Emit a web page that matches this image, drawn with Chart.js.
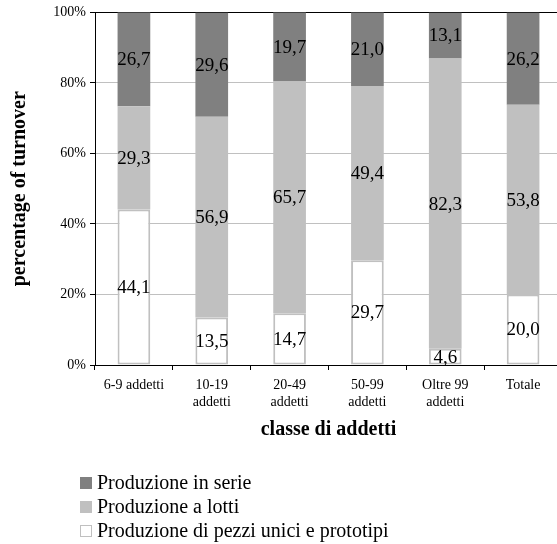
<!DOCTYPE html>
<html>
<head>
<meta charset="utf-8">
<script src="https://cdn.jsdelivr.net/npm/chart.js@4/dist/chart.umd.min.js"></script>
<style>
  html, body { margin: 0; padding: 0; background: #fff; overflow: hidden; }
  #wrap { width: 565px; height: 544px; }
</style>
</head>
<body>
<div id="wrap"><canvas id="chart" width="565" height="544"></canvas></div>
<script>
// Size classes (employees) and share of turnover by production type
const categories = [
  '6-9 addetti',
  ['10-19', 'addetti'],
  ['20-49', 'addetti'],
  ['50-99', 'addetti'],
  ['Oltre 99', 'addetti'],
  'Totale'
];
const seriesNames = [
  'Produzione di pezzi unici e prototipi',
  'Produzione a lotti',
  'Produzione in serie'
];
const pezziUnici = [44.1, 13.5, 14.7, 29.7, 4.6, 20.0];
const lotti      = [29.3, 56.9, 65.7, 49.4, 82.3, 53.8];
const serie      = [26.7, 29.6, 19.7, 21.0, 13.1, 26.2];
const yTicks = [0, 20, 40, 60, 80, 100];

const FONT = '"Liberation Serif", "Times New Roman", serif';

// Writes each segment's value (decimal comma) in the middle of its bar piece
const segmentLabels = {
  id: 'segmentLabels',
  afterDatasetsDraw(chart) {
    const ctx = chart.ctx;
    ctx.save();
    ctx.font = '19px ' + FONT;
    ctx.fillStyle = '#000';
    ctx.textAlign = 'center';
    ctx.textBaseline = 'middle';
    chart.data.datasets.forEach((ds, di) => {
      const meta = chart.getDatasetMeta(di);
      meta.data.forEach((bar, i) => {
        const p = bar.getProps(['x', 'y', 'base'], true);
        const txt = ds.data[i].toFixed(1).replace('.', ',');
        ctx.fillText(txt, p.x, (p.y + p.base) / 2 + 1);
      });
    });
    ctx.restore();
  }
};

// Vertical legend in the lower-left corner, top series first
const stackedLegend = {
  id: 'stackedLegend',
  afterDraw(chart) {
    const ctx = chart.ctx;
    const x0 = 80, y0 = 483, rowH = 24, box = 12;
    ctx.save();
    ctx.font = '20px ' + FONT;
    ctx.textBaseline = 'middle';
    ctx.textAlign = 'left';
    const order = chart.data.datasets.map((d, i) => i).reverse();
    order.forEach((di, row) => {
      const ds = chart.data.datasets[di];
      const y = y0 + row * rowH;
      ctx.fillStyle = ds.backgroundColor;
      ctx.fillRect(x0, y - box / 2, box, box);
      if (ds.borderWidth) {
        ctx.strokeStyle = ds.borderColor;
        ctx.lineWidth = 1;
        ctx.strokeRect(x0 + 0.5, y - box / 2 + 0.5, box - 1, box - 1);
      }
      ctx.fillStyle = '#000';
      ctx.fillText(ds.label, x0 + 17, y + 1);
    });
    ctx.restore();
  }
};

const PAD_LEFT = 4;
const X_AXIS_H = 77;

new Chart(document.getElementById('chart'), {
  type: 'bar',
  data: {
    labels: categories,
    datasets: [
      { label: seriesNames[0], data: pezziUnici, backgroundColor: '#ffffff',
        borderColor: '#c0c0c0', borderWidth: 2, borderSkipped: false },
      { label: seriesNames[1], data: lotti, backgroundColor: '#c0c0c0', borderWidth: 0 },
      { label: seriesNames[2], data: serie, backgroundColor: '#808080', borderWidth: 0 }
    ]
  },
  options: {
    responsive: false,
    animation: false,
    layout: { padding: { left: PAD_LEFT, right: 3, top: 12, bottom: 544 - 365 - X_AXIS_H } },
    datasets: { bar: { categoryPercentage: 1, barPercentage: 0.42 } },
    plugins: {
      legend: { display: false },
      tooltip: { enabled: false }
    },
    scales: {
      x: {
        stacked: true,
        offset: true,
        afterFit(scale) { scale.height = X_AXIS_H; },
        grid: { offset: true, drawOnChartArea: false, tickLength: 5, tickColor: '#000' },
        border: { color: '#000', width: 1 },
        ticks: { color: '#000', font: { family: FONT, size: 14 }, padding: 7, maxRotation: 0, autoSkip: false },
        title: { display: true, text: 'classe di addetti', color: '#000',
                 font: { family: FONT, size: 20, weight: 'bold' }, padding: { top: 0, bottom: 0 } }
      },
      y: {
        stacked: true,
        min: 0,
        max: 100,
        afterFit(scale) { scale.width = 95 - PAD_LEFT; },
        afterBuildTicks(scale) { scale.ticks = yTicks.map(v => ({ value: v })); },
        grid: {
          color: ctx => (ctx.tick && ctx.tick.value === 100 ? '#000' : '#c0c0c0'),
          tickColor: '#000',
          tickLength: 5,
          lineWidth: 1
        },
        border: { color: '#000', width: 1 },
        ticks: { color: '#000', font: { family: FONT, size: 14 }, padding: 4,
                 callback: v => v + '%' },
        title: { display: true, text: 'percentage of turnover', color: '#000',
                 font: { family: FONT, size: 20, weight: 'bold' }, padding: { top: 4, bottom: 0 } }
      }
    }
  },
  plugins: [segmentLabels, stackedLegend]
});
</script>
</body>
</html>
